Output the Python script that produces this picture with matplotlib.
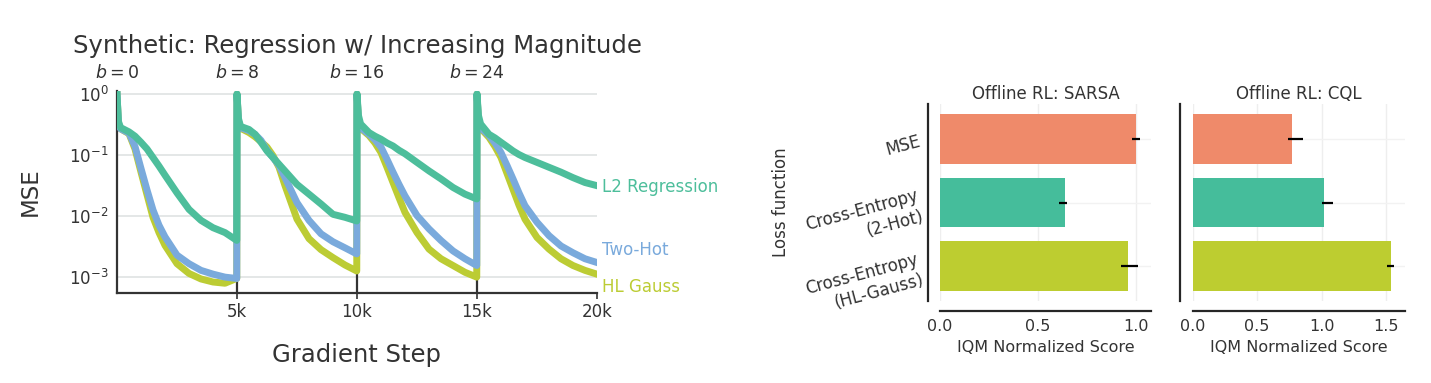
import matplotlib
matplotlib.use("Agg")
import matplotlib.pyplot as plt
import numpy as np

TXT = "#333333"
plt.rcParams["font.family"] = ["DejaVu Sans"]
plt.rcParams["text.color"] = TXT
plt.rcParams["axes.labelcolor"] = TXT
plt.rcParams["xtick.color"] = TXT
plt.rcParams["ytick.color"] = TXT

# ---------------- left panel data ----------------
seg_starts = [0, 5000, 10000, 15000]
seg_names = ["$b = 0$", "$b = 8$", "$b = 16$", "$b = 24$"]
step_offsets = [0, 60, 150, 500, 750, 1000, 1250, 1500, 1750, 2000,
                2500, 3000, 3500, 4000, 4500, 4990]

l2_mse = [
    [1.0, 0.355, 0.282, 0.240, 0.204, 0.162, 0.126, 0.0912, 0.066, 0.0468, 0.0240, 0.0129, 0.00851, 0.00646, 0.00537, 0.00400],
    [1.0, 0.398, 0.295, 0.263, 0.219, 0.162, 0.117, 0.0912, 0.0708, 0.0550, 0.0331, 0.0229, 0.0158, 0.0107, 0.00955, 0.00832],
    [1.0, 0.447, 0.324, 0.234, 0.204, 0.182, 0.158, 0.141, 0.120, 0.105, 0.0759, 0.0550, 0.0407, 0.0295, 0.0229, 0.0191],
    [1.0, 0.447, 0.324, 0.219, 0.191, 0.162, 0.138, 0.117, 0.102, 0.0912, 0.0759, 0.0631, 0.0525, 0.0427, 0.0355, 0.0316],
]
twohot_mse = [
    [1.0, 0.316, 0.269, 0.229, 0.138, 0.0603, 0.0269, 0.0126, 0.00708, 0.00457, 0.00229, 0.00166, 0.00129, 0.00112, 0.00100, 0.00095],
    [1.0, 0.355, 0.282, 0.251, 0.219, 0.174, 0.120, 0.0912, 0.0676, 0.0427, 0.0166, 0.00851, 0.00513, 0.00380, 0.00302, 0.00240],
    [1.0, 0.355, 0.282, 0.219, 0.178, 0.135, 0.0851, 0.0525, 0.0331, 0.0214, 0.0102, 0.00617, 0.00398, 0.00269, 0.00200, 0.00155],
    [1.0, 0.355, 0.282, 0.209, 0.158, 0.110, 0.0676, 0.0407, 0.0240, 0.0148, 0.00794, 0.00479, 0.00324, 0.00251, 0.00200, 0.00174],
]
hlgauss_mse = [
    [1.0, 0.316, 0.269, 0.224, 0.126, 0.0525, 0.0224, 0.00955, 0.00537, 0.00331, 0.00166, 0.00115, 0.000933, 0.000832, 0.000794, 0.000955],
    [1.0, 0.355, 0.275, 0.234, 0.200, 0.166, 0.135, 0.0977, 0.0631, 0.0316, 0.00891, 0.00427, 0.00282, 0.00209, 0.00158, 0.00126],
    [1.0, 0.355, 0.275, 0.209, 0.158, 0.110, 0.0631, 0.0355, 0.0200, 0.0115, 0.00537, 0.00288, 0.00200, 0.00155, 0.00120, 0.00100],
    [1.0, 0.355, 0.275, 0.195, 0.138, 0.0912, 0.0501, 0.0275, 0.0151, 0.00891, 0.00447, 0.00288, 0.00200, 0.00155, 0.00129, 0.00112],
]
series_names = ["L2 Regression", "Two-Hot", "HL Gauss"]
label_y = [0.030, 0.0028, 0.00069]
xtick_vals = [5000, 10000, 15000, 20000]
xtick_labels = ["5k", "10k", "15k", "20k"]
ytick_vals = [1e-3, 1e-2, 1e-1, 1e0]
ytick_labels = ["$10^{-3}$", "$10^{-2}$", "$10^{-1}$", "$10^{0}$"]

# ---------------- right panel data ----------------
loss_labels = ["MSE", "Cross-Entropy\n(2-Hot)", "Cross-Entropy\n(HL-Gauss)"]
sarsa_score = [1.0, 0.636, 0.961]
sarsa_lo = [0.980, 0.609, 0.922]
sarsa_hi = [1.023, 0.648, 1.009]
cql_score = [0.772, 1.019, 1.536]
cql_lo = [0.742, 1.003, 1.507]
cql_hi = [0.853, 1.091, 1.564]
sarsa_ticks = [0.0, 0.5, 1.0]
cql_ticks = [0.0, 0.5, 1.0, 1.5]

line_colors = ["#4dbe9b", "#7aaadc", "#bccc34"]
bar_colors = ["#ef8a6a", "#45bd9b", "#bdcd30"]

W, H = 1431, 383
fig = plt.figure(figsize=(W / 100, H / 100), dpi=100)

# ================= left panel =================
ax = fig.add_axes([117 / W, 90 / H, 480 / W, 202 / H])
all_series = [l2_mse, twohot_mse, hlgauss_mse]
zorders = [4, 3, 2]
for vals, col, zo in zip(all_series, line_colors, zorders):
    xs, ys = [], []
    for s0, seg in zip(seg_starts, vals):
        xs.extend([s0 + o for o in step_offsets])
        ys.extend(seg)
    ax.plot(xs, ys, color=col, lw=5, zorder=zo, solid_joinstyle="round")

ax.set_yscale("log")
ax.set_xlim(0, 20000)
ax.set_ylim(10 ** -3.26, 10 ** 0.05)
for yv in ytick_vals:
    ax.axhline(yv, color="#dfe3e3", lw=1.2, zorder=0)
for s0 in seg_starts[1:]:
    ax.axvline(s0, color="#333333", lw=1.6, zorder=1)
for s0, nm in zip(seg_starts, seg_names):
    ax.text(s0, 1.045, nm, transform=ax.get_xaxis_transform(), ha="center",
            va="bottom", fontsize=12.5, color=TXT)

for sp in ["top", "right"]:
    ax.spines[sp].set_visible(False)
for sp in ["left", "bottom"]:
    ax.spines[sp].set_color("#333333")
    ax.spines[sp].set_linewidth(1.6)
ax.set_xticks(xtick_vals)
ax.set_xticklabels(xtick_labels, fontsize=12)
ax.set_yticks(ytick_vals)
ax.set_yticklabels(ytick_labels, fontsize=12)
ax.yaxis.set_minor_locator(matplotlib.ticker.NullLocator())
ax.tick_params(axis="x", length=4, width=1.2, pad=3)
ax.tick_params(axis="y", length=0, pad=6)
ax.set_xlabel("Gradient Step", fontsize=17.5, labelpad=16)
ax.set_ylabel("MSE", fontsize=16.5, labelpad=20)
ax.set_title("Synthetic: Regression w/ Increasing Magnitude", fontsize=17.5,
             pad=27, color=TXT)
for nm, yv, col in zip(series_names, label_y, line_colors):
    ax.text(20200, yv, nm, color=col, fontsize=12, ha="left", va="center")

# ================= right panels =================
def bar_panel(rect, scores, lo, hi, ticks, xmax, title, show_y):
    a = fig.add_axes(rect)
    for sp in ["top", "right"]:
        a.spines[sp].set_visible(False)
    a.spines["left"].set_position(("outward", 9))
    a.spines["bottom"].set_position(("outward", 7.5))
    for sp in ["left", "bottom"]:
        a.spines[sp].set_color("#262626")
        a.spines[sp].set_linewidth(1.6)
    ypos = np.arange(len(scores))
    for xt in ticks:
        a.axvline(xt, color="#eeeeee", lw=1, zorder=0)
    for yp in ypos:
        a.axhline(yp, color="#f2f2f2", lw=1, zorder=0)
    a.barh(ypos, scores, height=0.78, color=bar_colors, zorder=2)
    err = [np.array(scores) - np.array(lo), np.array(hi) - np.array(scores)]
    a.errorbar(scores, ypos, xerr=err, fmt="none", ecolor="black",
               elinewidth=1.6, capsize=0, zorder=3)
    a.set_xlim(0, xmax)
    a.set_ylim(2.55, -0.55)
    a.set_xticks(ticks)
    a.set_xticklabels([f"{t:.1f}" for t in ticks], fontsize=11.5)
    a.tick_params(axis="both", length=0)
    a.tick_params(axis="x", pad=6)
    a.tick_params(axis="y", pad=5.5)
    a.set_yticks(ypos)
    if show_y:
        a.set_yticklabels(loss_labels, fontsize=12, rotation=15, ha="right",
                          va="center_baseline", rotation_mode="anchor")
        a.set_ylabel("Loss function", fontsize=12, labelpad=10)
    else:
        a.set_yticklabels([])
    a.set_xlabel("IQM Normalized Score", fontsize=11.5, labelpad=4)
    a.set_title(title, fontsize=12, pad=4, color=TXT)
    return a

bar_panel([940 / W, 82.3 / H, 211 / W, 196.4 / H], sarsa_score, sarsa_lo,
          sarsa_hi, sarsa_ticks, 1.077, "Offline RL: SARSA", True)
bar_panel([1192.7 / W, 82.3 / H, 212.6 / W, 196.4 / H], cql_score, cql_lo,
          cql_hi, cql_ticks, 1.65, "Offline RL: CQL", False)

fig.savefig("out.png", dpi=100)
